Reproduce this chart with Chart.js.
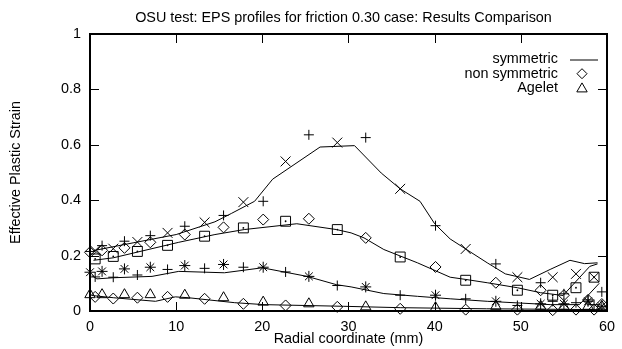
<!DOCTYPE html>
<html>
<head>
<meta charset="utf-8">
<script src="https://cdn.jsdelivr.net/npm/chart.js@4.4.1/dist/chart.umd.min.js"></script>
<style>
  html, body { margin: 0; padding: 0; background: #fff; }
</style>
</head>
<body>
<canvas id="chart" width="622" height="349"></canvas>
<script>
// ── Texts ─────────────────────────────────────────────────────────────
const TITLE   = 'OSU test: EPS profiles for friction 0.30 case: Results Comparison';
const X_TITLE = 'Radial coordinate (mm)';
const Y_TITLE = 'Effective Plastic Strain';
const KEY     = ['symmetric', 'non symmetric', 'Agelet'];

// ── Symmetric profiles (lines) ────────────────────────────────────────
const symX1 = [0.4, 5.0, 10.0, 14.5, 16.4, 19.1, 21.2, 26.7, 30.7, 33.8, 36.0, 38.3, 40.0, 41.8, 43.6, 46.1, 48.2, 51.0, 53.4, 55.7, 57.4, 58.9];
const symY1 = [0.218, 0.246, 0.276, 0.322, 0.352, 0.396, 0.476, 0.592, 0.597, 0.498, 0.441, 0.396, 0.315, 0.260, 0.224, 0.174, 0.134, 0.114, 0.150, 0.183, 0.171, 0.174];

const symX2 = [0.4, 2.7, 10.3, 14.5, 17.9, 24.0, 28.6, 30.3, 31.8, 34.1, 38.0, 41.8, 43.6, 46.1, 49.6, 52.3, 54.9, 58.0, 58.9];
const symY2 = [0.183, 0.192, 0.248, 0.276, 0.294, 0.315, 0.294, 0.282, 0.264, 0.222, 0.174, 0.122, 0.114, 0.102, 0.084, 0.066, 0.056, 0.161, 0.170];

const symX3 = [0.2, 0.8, 2.7, 7.2, 10.3, 15.6, 20.0, 25.2, 28.6, 30.3, 34.1, 38.0, 41.8, 46.1, 53.4, 56.8, 59.1];
const symY3 = [0.128, 0.116, 0.120, 0.125, 0.143, 0.138, 0.156, 0.125, 0.095, 0.087, 0.063, 0.053, 0.044, 0.035, 0.023, 0.023, 0.100];

const symX4 = [0.2, 2.7, 7.6, 9.9, 11.4, 16.8, 20.2, 29.4, 36.0, 46.0, 59.0];
const symY4 = [0.056, 0.048, 0.035, 0.051, 0.048, 0.030, 0.023, 0.017, 0.012, 0.008, 0.005];

// ── Point profiles (markers) ──────────────────────────────────────────
const xEven = [0, 1.4, 4.0, 7.0, 11.0, 15.5, 20.1, 25.4, 32.0, 40.1, 47.1, 52.3, 55.0, 57.8, 59.4];
const xOdd  = [0.6, 2.7, 5.5, 9.0, 13.3, 17.8, 22.7, 28.7, 36.0, 43.6, 49.6, 53.7, 56.4, 58.5];

const plusTop   = [0.215, 0.236, 0.252, 0.272, 0.306, 0.345, 0.396, 0.636, 0.626, 0.308, 0.170, 0.102, 0.062, 0.040, 0.069];
const crossTop  = [0.218, 0.225, 0.249, 0.282, 0.320, 0.393, 0.540, 0.608, 0.441, 0.224, 0.122, 0.122, 0.134, 0.122];
const diamond2  = [0.212, 0.219, 0.228, 0.248, 0.276, 0.302, 0.330, 0.333, 0.264, 0.159, 0.102, 0.075, 0.057, 0.040, 0.025];
const square2   = [0.188, 0.197, 0.215, 0.237, 0.270, 0.300, 0.324, 0.294, 0.195, 0.111, 0.075, 0.057, 0.084, 0.122];
const star3     = [0.140, 0.143, 0.152, 0.158, 0.164, 0.168, 0.158, 0.125, 0.087, 0.057, 0.035, 0.026, 0.026, 0.035, 0.017];
const plus3     = [0.123, 0.122, 0.130, 0.150, 0.154, 0.158, 0.141, 0.092, 0.057, 0.044, 0.020, 0.035, 0.030, 0.023];
const tri4      = [0.059, 0.059, 0.059, 0.059, 0.057, 0.048, 0.032, 0.026, 0.015, 0.012, 0.017, 0.017, 0.017, 0.017, 0.017];
const diamond4  = [0.051, 0.045, 0.048, 0.051, 0.044, 0.026, 0.020, 0.015, 0.008, 0.005, 0.005, 0.003, 0.005, 0.005];

// ── Helpers ───────────────────────────────────────────────────────────
const FAMILY = '"Liberation Sans", Arial, Helvetica, sans-serif';
const FSIZE  = 14.4;
const FONT   = FSIZE + 'px ' + FAMILY;
const TICK   = 9;
const pts    = (xs, ys) => ys.map((v, i) => ({ x: xs[i], y: v }));

function lineSet(xs, ys) {
    return { data: pts(xs, ys), showLine: true, borderColor: '#000', borderWidth: 1,
             pointRadius: 0, tension: 0, clip: false };
}
function markSet(xs, ys, style, r) {
    return { data: pts(xs, ys), showLine: false, pointStyle: style, pointRadius: r,
             borderColor: '#000', backgroundColor: 'rgba(0,0,0,0)', pointBorderWidth: 1, clip: false };
}
function dotSet(xs, ys) {
    return { data: pts(xs, ys), showLine: false, pointStyle: 'circle', pointRadius: 0.9,
             borderWidth: 0, backgroundColor: '#000', clip: false };
}

// ── Frame, ticks, title and key (gnuplot look) ────────────────────────
const frame = {
    id: 'frame',
    afterDraw(chart) {
        const { ctx, chartArea: a, scales: { x, y } } = chart;
        ctx.save();
        ctx.strokeStyle = '#000';
        ctx.lineWidth = 1;
        ctx.beginPath();
        x.ticks.forEach(t => {
            const px = Math.round(x.getPixelForValue(t.value)) + 0.5;
            ctx.moveTo(px, a.bottom); ctx.lineTo(px, a.bottom - TICK);
            ctx.moveTo(px, a.top);    ctx.lineTo(px, a.top + TICK);
        });
        y.ticks.forEach(t => {
            const py = Math.round(y.getPixelForValue(t.value)) + 0.5;
            ctx.moveTo(a.left, py);  ctx.lineTo(a.left + TICK, py);
            ctx.moveTo(a.right, py); ctx.lineTo(a.right - TICK, py);
        });
        ctx.stroke();
        ctx.lineWidth = 2;
        ctx.strokeRect(a.left, a.top, a.right - a.left, a.bottom - a.top);

        ctx.fillStyle = '#000';
        ctx.font = FONT;
        ctx.textBaseline = 'middle';
        ctx.textAlign = 'center';
        ctx.fillText(TITLE, (a.left + a.right) / 2 - 5, 18);

        // key
        const kx = 558, ky = 59.5, dy = 14.2, sx = 582;
        ctx.textAlign = 'right';
        KEY.forEach((s, i) => ctx.fillText(s, kx, ky + i * dy));
        ctx.lineWidth = 1;
        ctx.beginPath();
        ctx.moveTo(570, ky + 0.5); ctx.lineTo(598, ky + 0.5);
        ctx.stroke();
        ctx.fillStyle = 'rgba(0,0,0,0)';
        const h = Chart.helpers;
        h.drawPoint(ctx, { pointStyle: 'rectRot', radius: 5, borderWidth: 1 }, sx, ky + dy);
        h.drawPoint(ctx, { pointStyle: 'triangle', radius: 6, borderWidth: 1 }, sx, ky + 2 * dy + 1);
        ctx.restore();
    }
};

const tickFont = { family: FAMILY, size: FSIZE };

// ── Chart ─────────────────────────────────────────────────────────────
new Chart(document.getElementById('chart'), {
    type: 'scatter',
    data: {
        datasets: [
            lineSet(symX1, symY1),
            lineSet(symX2, symY2),
            lineSet(symX3, symY3),
            lineSet(symX4, symY4),
            markSet(xEven, plusTop, 'cross', 5),
            markSet(xOdd, crossTop, 'crossRot', 7),
            markSet(xEven, diamond2, 'rectRot', 5.5),
            markSet(xOdd, square2, 'rect', 7),
            dotSet(xOdd, square2),
            markSet(xEven, star3, 'star', 5.5),
            dotSet(xEven, star3),
            markSet(xOdd, plus3, 'cross', 5),
            markSet(xEven, tri4, 'triangle', 6),
            markSet(xOdd, diamond4, 'rectRot', 5.5)
        ]
    },
    options: {
        responsive: false,
        animation: false,
        events: [],
        layout: { padding: { top: 34, right: 7, left: 0, bottom: 0 } },
        plugins: { legend: { display: false }, tooltip: { enabled: false }, title: { display: false } },
        scales: {
            x: {
                type: 'linear', min: 0, max: 60,
                ticks: { stepSize: 10, padding: 7, color: '#000', font: tickFont },
                grid: { display: false, drawTicks: false },
                border: { display: false },
                title: { display: true, text: X_TITLE, color: '#000', padding: { top: 0, bottom: 1 }, font: tickFont },
                afterFit: s => { s.height = 38; }
            },
            y: {
                type: 'linear', min: 0, max: 1,
                ticks: { stepSize: 0.2, padding: 9, color: '#000', font: tickFont,
                         callback: v => String(+v.toFixed(1)) },
                grid: { display: false, drawTicks: false },
                border: { display: false },
                title: { display: true, text: Y_TITLE, color: '#000', padding: { top: 7.6, bottom: 0 }, font: tickFont },
                afterFit: s => { s.width = 90; }
            }
        }
    },
    plugins: [frame]
});
</script>
</body>
</html>
